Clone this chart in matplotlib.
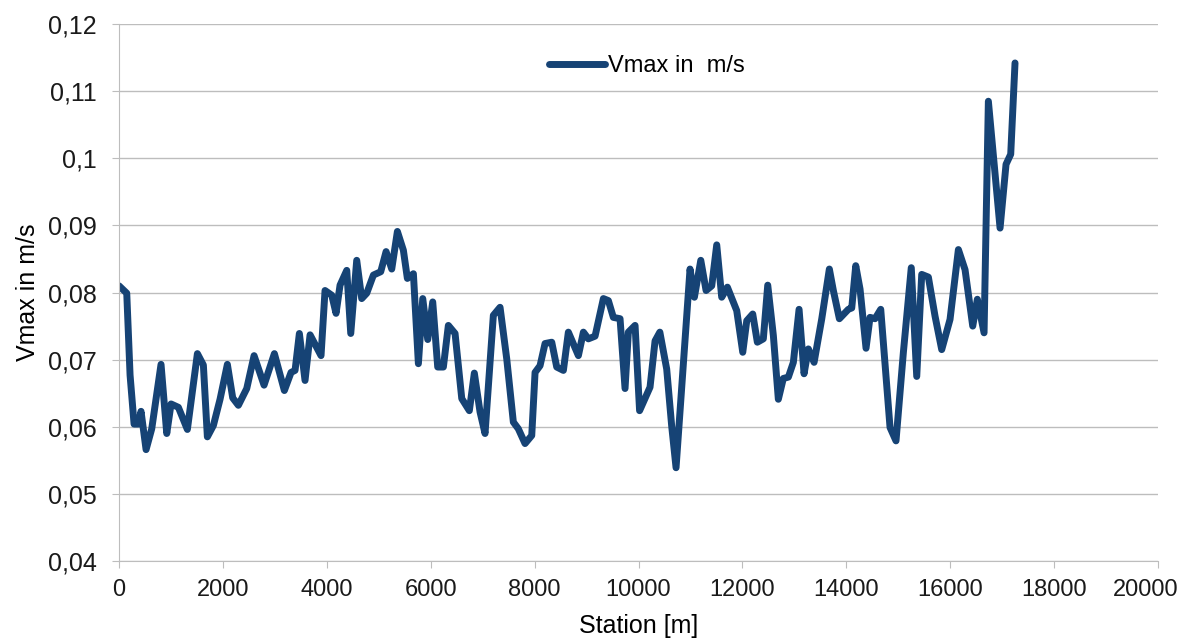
import matplotlib
matplotlib.use("Agg")
import matplotlib.pyplot as plt
from matplotlib.ticker import FuncFormatter, MultipleLocator
from matplotlib.transforms import ScaledTranslation

# station [m] and Vmax [m/s]
station = [
    0, 148, 212, 289, 372, 423, 520, 629, 808, 918, 1001, 1142, 1315, 1508,
    1623, 1700, 1816, 1944, 2085, 2188, 2297, 2458, 2599, 2791, 2990, 3182,
    3311, 3388, 3471, 3580, 3677, 3888, 3965, 4094, 4177, 4254, 4383, 4460,
    4575, 4671, 4768, 4896, 5037, 5140, 5249, 5358, 5473, 5550, 5666, 5762,
    5846, 5942, 6038, 6134, 6243, 6339, 6468, 6597, 6743, 6839, 6949, 7045,
    7205, 7334, 7463, 7590, 7686, 7815, 7944, 8008, 8104, 8200, 8329, 8425,
    8553, 8649, 8842, 8938, 9034, 9163, 9323, 9419, 9515, 9644, 9740, 9804,
    9933, 10020, 10221, 10318, 10410, 10542, 10638, 10722, 10991, 11075,
    11198, 11300, 11409, 11505, 11601, 11710, 11890, 12006, 12083, 12198,
    12287, 12402, 12487, 12595, 12691, 12787, 12884, 12980, 13090, 13186,
    13269, 13379, 13527, 13673, 13750, 13866, 14039, 14104, 14181, 14264,
    14379, 14456, 14552, 14662, 14841, 14956, 15098, 15250, 15355, 15451,
    15579, 15707, 15836, 15996, 16157, 16285, 16433, 16522, 16651, 16734,
    16959, 17074, 17164, 17247,
]
vmax = [
    0.0810, 0.0799, 0.0677, 0.0604, 0.0604, 0.0623, 0.0566, 0.0597, 0.0693,
    0.0590, 0.0634, 0.0629, 0.0596, 0.0709, 0.0692, 0.0585, 0.0602, 0.0641,
    0.0693, 0.0643, 0.0632, 0.0657, 0.0706, 0.0662, 0.0709, 0.0654, 0.0681,
    0.0684, 0.0739, 0.0669, 0.0737, 0.0706, 0.0803, 0.0796, 0.0769, 0.0811,
    0.0833, 0.0739, 0.0848, 0.0791, 0.0799, 0.0826, 0.0831, 0.0861, 0.0835,
    0.0891, 0.0863, 0.0821, 0.0828, 0.0694, 0.0791, 0.0730, 0.0786, 0.0689,
    0.0689, 0.0751, 0.0739, 0.0642, 0.0624, 0.0680, 0.0622, 0.0590, 0.0766,
    0.0778, 0.0701, 0.0607, 0.0597, 0.0575, 0.0587, 0.0681, 0.0691, 0.0724,
    0.0726, 0.0689, 0.0684, 0.0741, 0.0706, 0.0741, 0.0731, 0.0735, 0.0791,
    0.0788, 0.0763, 0.0761, 0.0657, 0.0741, 0.0751, 0.0624, 0.0659, 0.0728,
    0.0741, 0.0686, 0.0601, 0.0539, 0.0835, 0.0793, 0.0848, 0.0803, 0.0810,
    0.0871, 0.0793, 0.0808, 0.0773, 0.0711, 0.0758, 0.0768, 0.0726, 0.0731,
    0.0811, 0.0736, 0.0641, 0.0672, 0.0674, 0.0696, 0.0775, 0.0679, 0.0716,
    0.0696, 0.0761, 0.0835, 0.0803, 0.0761, 0.0775, 0.0777, 0.0840, 0.0805,
    0.0717, 0.0763, 0.0761, 0.0775, 0.0599, 0.0579, 0.0711, 0.0837, 0.0675,
    0.0827, 0.0823, 0.0765, 0.0715, 0.0760, 0.0864, 0.0834, 0.0750, 0.0790,
    0.0740, 0.1085, 0.0896, 0.0991, 0.1006, 0.1142,
]
x_ticks = list(range(0, 20001, 2000))

LINE = "#164375"
GRID = "#bdbdbd"

plt.rcParams["font.family"] = ["Liberation Sans", "DejaVu Sans"]

fig = plt.figure(figsize=(11.87, 6.39), dpi=100)
ax = fig.add_axes([0.1003, 0.122, 0.8753, 0.8404])

ax.plot(station, vmax, color=LINE, lw=5, solid_joinstyle="round",
        solid_capstyle="round", label="Vmax in  m/s")

ax.set_xlim(0, 20000)
ax.set_ylim(0.04, 0.12)
ax.set_xticks(x_ticks)
ax.yaxis.set_major_locator(MultipleLocator(0.01))
ax.yaxis.set_major_formatter(
    FuncFormatter(lambda v, p: f"{round(v, 2):g}".replace(".", ",")))

ax.grid(axis="y", color=GRID, lw=1)
ax.set_axisbelow(True)
for s in ("top", "right"):
    ax.spines[s].set_visible(False)
for s in ("left", "bottom"):
    ax.spines[s].set_color(GRID)
ax.tick_params(axis="both", colors=GRID, labelcolor="#1a1a1a", length=5)
ax.tick_params(axis="y", pad=11, labelsize=18)
ax.tick_params(axis="x", pad=8, labelsize=17)

# last x label sits against the right edge, nudge it inwards a bit
last = ax.xaxis.get_major_ticks()[-1].label1
last.set_transform(last.get_transform()
                   + ScaledTranslation(-9 / 72, 0, fig.dpi_scale_trans))

ax.set_ylabel("Vmax in m/s", fontsize=18, labelpad=6)
ax.set_xlabel("Station [m]", fontsize=18, labelpad=9)

ax.legend(loc="center", bbox_to_anchor=(0.508, 0.922), frameon=False,
          fontsize=17, handlelength=2.4, handletextpad=0.12)

fig.savefig("out.png", dpi=100)
